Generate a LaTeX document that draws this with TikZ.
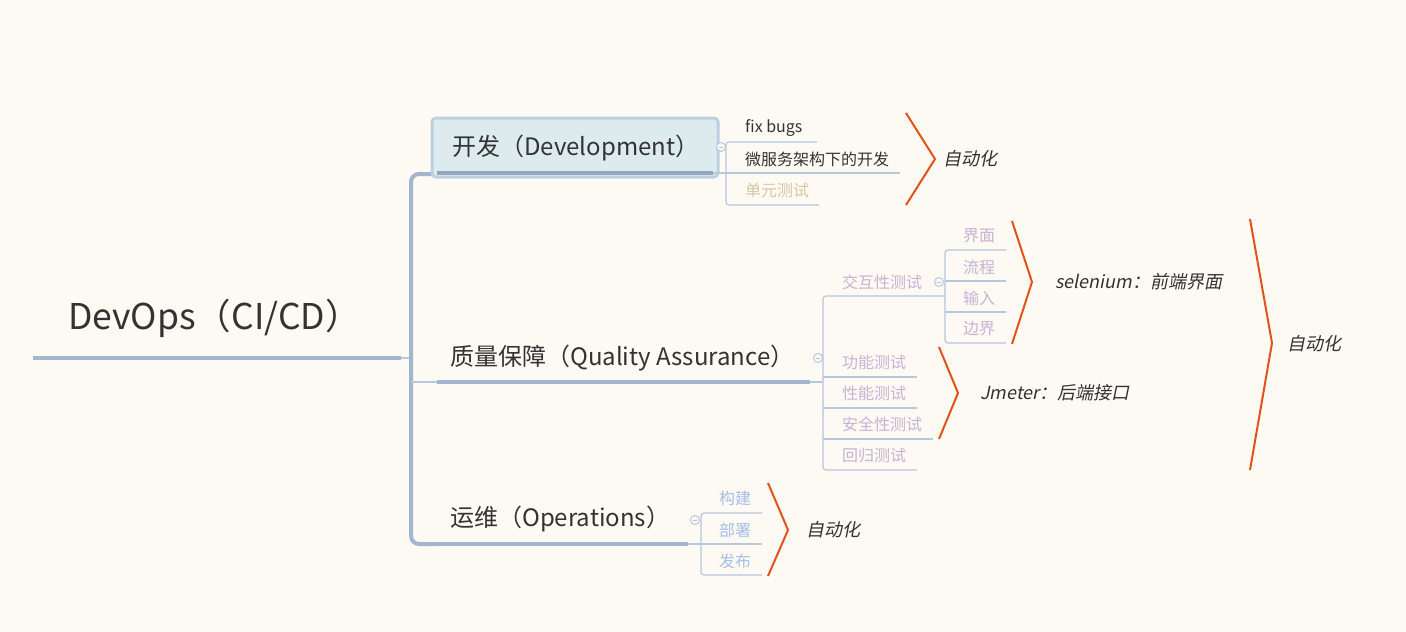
\documentclass[tikz,border=0pt]{standalone}
\usepackage{fontspec}
\setmainfont{Noto Sans CJK SC}
\newfontfamily\slantfont[FakeSlant=0.2]{Noto Sans CJK SC}
\definecolor{bg}{HTML}{FDFAF3}
\definecolor{txt}{HTML}{333333}
\definecolor{tan}{HTML}{D6C8A3}
\definecolor{lav}{HTML}{C6B3D5}
\definecolor{lblue}{HTML}{A6BEE6}
\definecolor{org}{HTML}{E1531B}
\definecolor{thin}{HTML}{B6C7DE}
\definecolor{thick}{HTML}{A2B6CF}
\definecolor{boxfill}{HTML}{DDEBEF}
\definecolor{boxline}{HTML}{BCD0E2}
\definecolor{knob}{HTML}{B4C4E8}
\tikzset{
  lbl/.style={anchor=west, inner sep=0pt, text=txt},
  root/.style={lbl, font=\fontsize{35.5}{40}\selectfont},
  main/.style={lbl, font=\fontsize{24}{28}\selectfont},
  sub/.style={lbl, font=\fontsize{16}{19}\selectfont},
  note/.style={lbl, font=\fontsize{18}{21}\slantfont},
  thinline/.style={draw=thin, line width=1.2pt},
  thickline/.style={draw=thick, line width=3.5pt},
  brk/.style={draw=thick, line width=4pt, rounded corners=8pt},
  sbrk/.style={draw=thin, line width=1.2pt, rounded corners=3pt},
  obrk/.style={draw=org, line width=2pt},
  knobc/.style={circle, draw=knob, fill=bg, line width=0.9pt, minimum size=9pt, inner sep=0pt,
    path picture={\draw[knob, line width=0.9pt] ([xshift=-2.2pt]path picture bounding box.center) -- ([xshift=2.2pt]path picture bounding box.center);}},
}
\begin{document}
\begin{tikzpicture}[x=1pt, y=-1pt]
\fill[bg] (0,0) rectangle (1406,632);
\useasboundingbox (0,0) rectangle (1406,632);

% ---------- root ----------
\node[root] (root) at (68,318) {DevOps（CI/CD）};
\coordinate (rootL) at (33,358);
\coordinate (rootR) at (401,358);
\coordinate (rootJ) at (411,358);
\draw[thickline] (rootL) -- (rootR);
\draw[thinline] (rootR) -- (rootJ);

% main bracket
\coordinate (bTop) at (437,174);
\coordinate (bMid) at (437,382);
\coordinate (bBot) at (437,544);
\draw[brk] (bTop) -- (411,174) -- (411,544) -- (bBot);
\draw[thinline, line width=2pt] (411,382) -- (bMid);

% ---------- Development ----------
\node[draw=boxline, fill=boxfill, line width=3pt, rounded corners=4pt, minimum width=286pt, minimum height=59pt, inner sep=0pt] (devbox) at (575,147.5) {};
\node[main] (dev) at (452,148) {开发（Development）};
\coordinate (devL) at (437,173);
\coordinate (devR) at (713,173);
\draw[thickline, draw=thick!92!black] (devL) -- (devR);
\node[knobc] (k1) at (721,147) {};

\coordinate (d1) at (817,142);
\coordinate (d2) at (900,173);
\coordinate (d3) at (819,205);
\draw[thinline] (devR) -- (726,173) -- (d2);
\draw[sbrk] (d1) -- (726,142) -- (726,205) -- (d3);
\node[sub] (fix) at (745,128) {fix bugs};
\node[sub] (micro) at (745,159) {微服务架构下的开发};
\node[sub, text=tan] (unit) at (745,190) {单元测试};

\coordinate (o1a) at (906,113);
\coordinate (o1b) at (935,159);
\coordinate (o1c) at (906,205);
\draw[obrk] (o1a) -- (o1b) -- (o1c);
\node[note] (auto1) at (943,159) {自动化};

% ---------- Quality Assurance ----------
\node[main] (qa) at (450,358) {质量保障（Quality Assurance）};
\coordinate (qaR) at (810,382);
\draw[thickline] (bMid) -- (qaR);
\draw[thinline] (qaR) -- (823,382);
\node[knobc] (k2) at (818,358) {};

\coordinate (q0) at (945,296);
\coordinate (q1) at (917,377);
\coordinate (q2) at (917,408);
\coordinate (q3) at (933,439);
\coordinate (q4) at (917,470);
\draw[sbrk] (q0) -- (823,296) -- (823,470) -- (q4);
\draw[thinline] (823,377) -- (q1);
\draw[thinline] (823,408) -- (q2);
\draw[thinline] (823,439) -- (q3);
\node[sub, text=lav] (inter) at (842,282) {交互性测试};
\node[sub, text=lav] (func) at (842,362) {功能测试};
\node[sub, text=lav] (perf) at (842,393) {性能测试};
\node[sub, text=lav] (sec) at (842,424) {安全性测试};
\node[sub, text=lav] (reg) at (842,455) {回归测试};
\node[knobc] (k3) at (939,282) {};

\coordinate (i1) at (1006,250);
\coordinate (i2) at (1006,281);
\coordinate (i3) at (1006,312);
\coordinate (i4) at (1006,343);
\draw[sbrk] (i1) -- (945,250) -- (945,343) -- (i4);
\draw[thinline] (945,281) -- (i2);
\draw[thinline] (945,312) -- (i3);
\node[sub, text=lav] (ui) at (963,236) {界面};
\node[sub, text=lav] (flow) at (963,267) {流程};
\node[sub, text=lav] (inp) at (963,298) {输入};
\node[sub, text=lav] (bound) at (963,329) {边界};

\coordinate (o2a) at (1012,221);
\coordinate (o2b) at (1032,282);
\coordinate (o2c) at (1012,344);
\draw[obrk] (o2a) -- (o2b) -- (o2c);
\node[note] (sel) at (1055,282) {selenium：前端界面};

\coordinate (o3a) at (939,347);
\coordinate (o3b) at (958,393);
\coordinate (o3c) at (939,439);
\draw[obrk] (o3a) -- (o3b) -- (o3c);
\node[note] (jm) at (980,393) {Jmeter：后端接口};

\coordinate (o4a) at (1250,219);
\coordinate (o4b) at (1272,343);
\coordinate (o4c) at (1250,470);
\draw[obrk] (o4a) -- (o4b) -- (o4c);
\node[note] (auto2) at (1287,344) {自动化};

% ---------- Operations ----------
\node[main] (ops) at (450,519) {运维（Operations）};
\coordinate (opsR) at (688,544);
\draw[thickline] (bBot) -- (opsR);
\node[knobc] (k4) at (695,520) {};
\coordinate (p1) at (762,513);
\coordinate (p2) at (762,544);
\coordinate (p3) at (762,575);
\draw[thinline] (opsR) -- (p2);
\draw[sbrk] (p1) -- (701,513) -- (701,575) -- (p3);
\node[sub, text=lblue] (build) at (719,498) {构建};
\node[sub, text=lblue] (deploy) at (719,530) {部署};
\node[sub, text=lblue] (rel) at (719,561) {发布};

\coordinate (o5a) at (768,483);
\coordinate (o5b) at (788,530);
\coordinate (o5c) at (768,576);
\draw[obrk] (o5a) -- (o5b) -- (o5c);
\node[note] (auto3) at (806,530) {自动化};
\end{tikzpicture}
\end{document}
